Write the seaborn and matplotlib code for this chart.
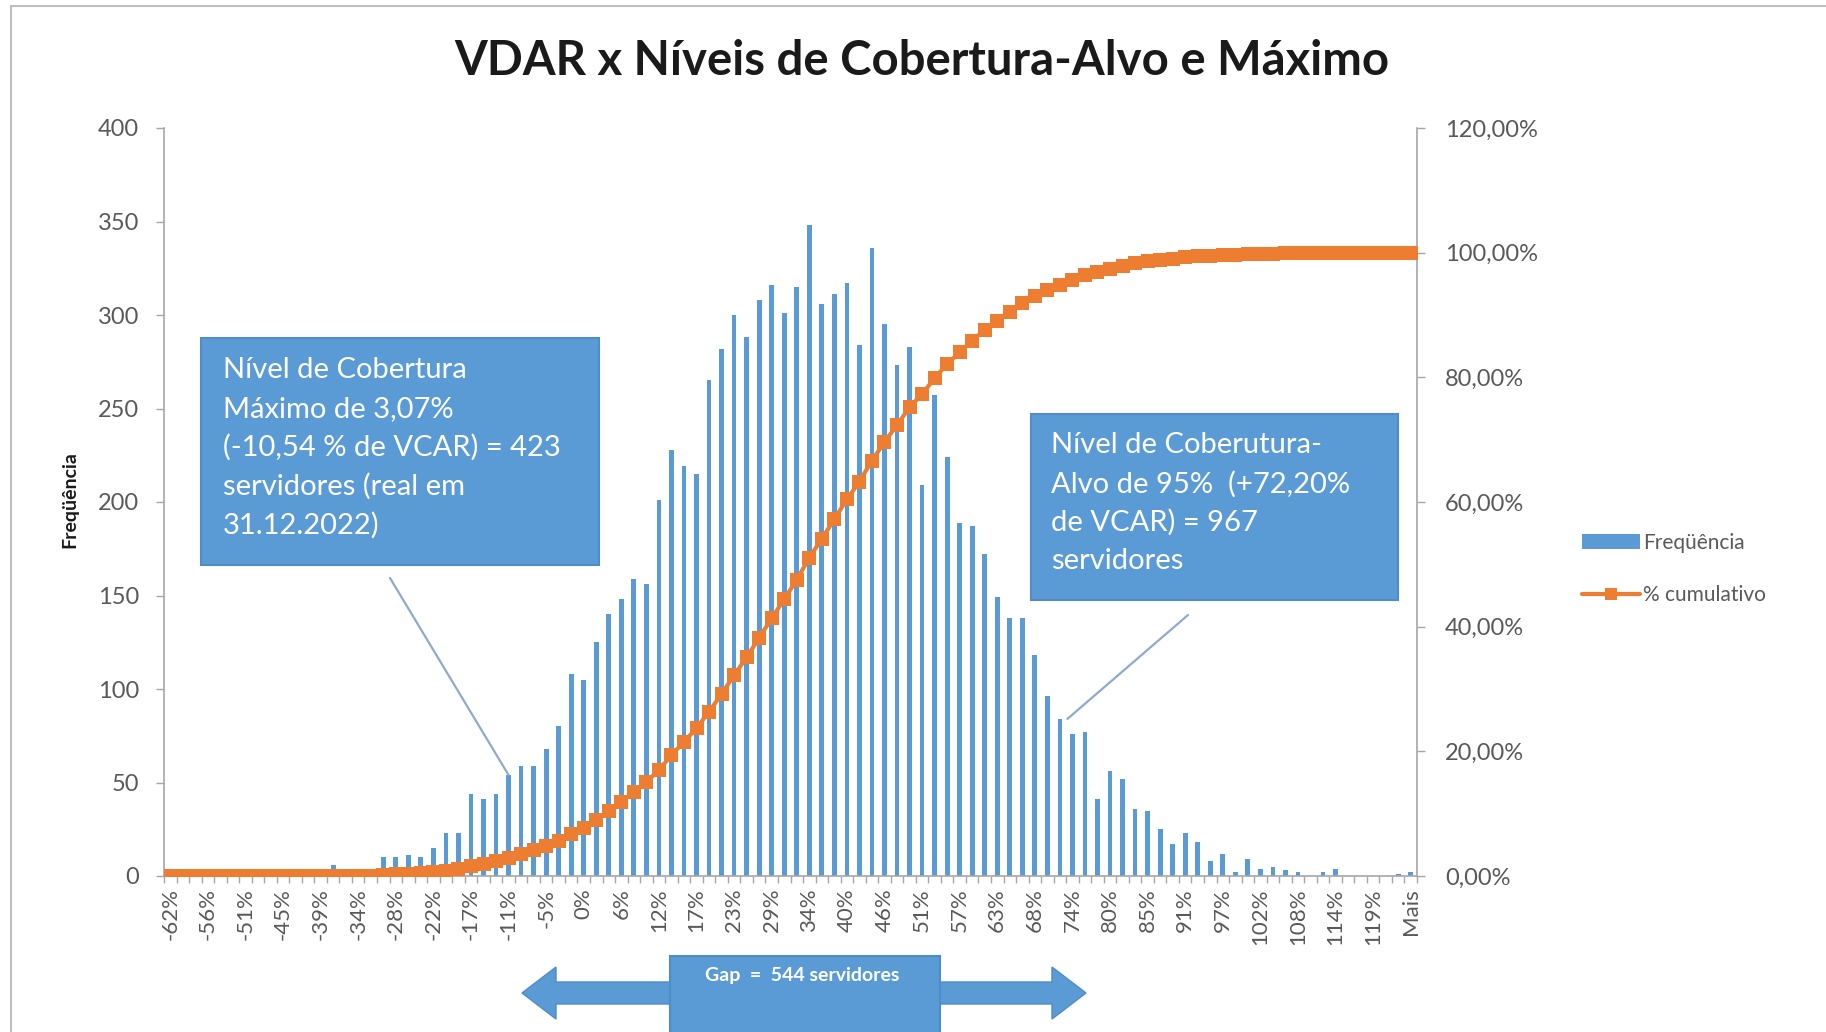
import numpy as np
import pandas as pd
import matplotlib
matplotlib.use("Agg")
import matplotlib.pyplot as plt
import seaborn as sns
from matplotlib.patches import Rectangle, Polygon
from matplotlib.lines import Line2D

# ---------------- data ----------------
categories = [
    "-62%", "-60%", "-58%", "-56%", "-54%", "-52%", "-51%", "-49%", "-47%", "-45%",
    "-43%", "-41%", "-39%", "-37%", "-35%", "-34%", "-32%", "-30%", "-28%", "-26%",
    "-24%", "-22%", "-20%", "-19%", "-17%", "-15%", "-13%", "-11%", "-9%", "-7%",
    "-5%", "-3%", "-2%", "0%", "2%", "4%", "6%", "8%", "10%", "12%",
    "14%", "15%", "17%", "19%", "21%", "23%", "25%", "27%", "29%", "31%",
    "32%", "34%", "36%", "38%", "40%", "42%", "44%", "46%", "47%", "49%",
    "51%", "53%", "55%", "57%", "59%", "61%", "63%", "64%", "66%", "68%",
    "70%", "72%", "74%", "76%", "78%", "80%", "81%", "83%", "85%", "87%",
    "89%", "91%", "93%", "95%", "97%", "98%", "100%", "102%", "104%", "106%",
    "108%", "110%", "112%", "114%", "115%", "117%", "119%", "121%", "123%", "Mais",
]

frequencia = [
    0, 0, 0, 0, 0, 0, 0, 0, 0, 0,
    0, 0, 0, 6, 0, 0, 0, 10, 10, 11,
    10, 15, 23, 23, 44, 41, 44, 54, 59, 59,
    68, 80, 108, 105, 125, 140, 148, 159, 156, 201,
    228, 219, 215, 265, 282, 300, 288, 308, 316, 301,
    315, 348, 306, 311, 317, 284, 336, 295, 273, 283,
    209, 257, 224, 189, 187, 172, 149, 138, 138, 118,
    96, 84, 76, 77, 41, 56, 52, 36, 35, 25,
    17, 23, 18, 8, 12, 2, 9, 4, 5, 3,
    2, 0, 2, 4, 0, 0, 0, 0, 1, 2,
]

left_ticks = [0, 50, 100, 150, 200, 250, 300, 350, 400]
right_ticks = [0, 20, 40, 60, 80, 100, 120]
right_tick_labels = ["0,00%", "20,00%", "40,00%", "60,00%", "80,00%", "100,00%", "120,00%"]

title = "VDAR x Níveis de Cobertura-Alvo e Máximo"
ylabel = "Freqüência"
legend_labels = ["Freqüência", "% cumulativo"]
box_left_text = ["Nível de Cobertura", "Máximo de 3,07%", "(-10,54 % de VCAR) = 423",
                 "servidores (real em", "31.12.2022)"]
box_right_text = ["Nível de Coberutura-", "Alvo de 95%  (+72,20%", "de VCAR) = 967",
                  "servidores"]
gap_text = "Gap  =  544 servidores"

# ---------------- style ----------------
BLUE = "#5B9BD5"
ORANGE = "#ED7D31"
TXT = "#595959"
AXC = "#A6A6A6"

sns.set_theme(style="white")
plt.rcParams['font.family'] = ['Lato', 'DejaVu Sans']

W, H = 1826, 1032
fig = plt.figure(figsize=(W / 100, H / 100), dpi=100)
fig.patch.set_facecolor("white")

def fx(x):
    return x / W

def fy(y):
    return 1 - y / H

ax = fig.add_axes([fx(164), fy(876), (1417 - 164) / W, (876 - 128) / H])

df = pd.DataFrame({"cat": categories, "freq": frequencia})
n = len(categories)
cum = np.cumsum(frequencia) / np.sum(frequencia) * 100

sns.barplot(data=df, x="cat", y="freq", order=categories, ax=ax, color=BLUE,
            saturation=1, width=0.38, errorbar=None, linewidth=0, zorder=2)

ax2 = ax.twinx()
sns.lineplot(x=np.arange(n), y=cum, ax=ax2, color=ORANGE, marker="s",
             markersize=10.5, markeredgewidth=0, linewidth=3, zorder=3)

ax.set_xlim(-0.5, n - 0.5)
ax.set_ylim(0, 400)
ax2.set_ylim(0, 120)

# x ticks
major = list(range(0, n, 3))
ax.set_xticks(major)
ax.set_xticklabels([categories[i] for i in major], rotation=90, fontsize=16, color=TXT)
ax.set_xticks(np.arange(-0.5, n, 1), minor=True)
ax.tick_params(axis="x", which="major", length=0, pad=9, bottom=True)
ax.tick_params(axis="x", which="minor", length=5, width=1, color=AXC,
               direction="out", bottom=True)
ax.set_xlabel("")

# left y
ax.set_yticks(left_ticks)
ax.set_yticklabels([str(v) for v in left_ticks], fontsize=17, color=TXT)
ax.tick_params(axis="y", left=True, length=6, width=1, color=AXC,
               direction="out", pad=12)
ax.set_ylabel("")

# right y
ax2.set_yticks(right_ticks)
ax2.set_yticklabels(right_tick_labels, fontsize=17, color=TXT)
ax2.tick_params(axis="y", right=True, length=6, width=1, color=AXC,
                direction="out", pad=14)
ax2.set_ylabel("")
ax2.grid(False)
ax.grid(False)

for a in (ax, ax2):
    a.spines["top"].set_visible(False)
ax.spines["right"].set_visible(False)
ax.spines["left"].set_color(AXC)
ax.spines["bottom"].set_color(AXC)
ax2.spines["left"].set_visible(False)
ax2.spines["bottom"].set_visible(False)
ax2.spines["right"].set_color(AXC)
for a in (ax, ax2):
    for s in a.spines.values():
        s.set_linewidth(1.2)

# title and y label
fig.text(fx(922), fy(61), title, ha="center", va="center", fontsize=34,
         fontweight="bold", color="#1a1a1a")
fig.text(fx(70), fy(500), ylabel, rotation=90, ha="center", va="center",
         fontsize=14, fontweight="bold", color="#1a1a1a")

# legend
handles = [Rectangle((0, 0), 1, 1, facecolor=BLUE, edgecolor="none"),
           Line2D([0], [0], color=ORANGE, lw=3, marker="s", markersize=9,
                  markeredgewidth=0)]
fig.legend(handles, legend_labels, loc="center left",
           bbox_to_anchor=(fx(1563), fy(569)), frameon=False, fontsize=15,
           handlelength=2.8, handletextpad=0.15, labelspacing=1.55,
           labelcolor=TXT)

# annotation boxes
def box(x0, y0, x1, y1):
    fig.add_artist(Rectangle((fx(x0), fy(y1)), (x1 - x0) / W, (y1 - y0) / H,
                             transform=fig.transFigure, facecolor=BLUE,
                             edgecolor="#4F8CC9", linewidth=1.5, zorder=5))

box(201, 338, 599, 565)
for k, line in enumerate(box_left_text):
    fig.text(fx(223), fy(370 + 38.8 * k), line, ha="left", va="center",
             fontsize=21, color="white", zorder=6)

box(1031, 414, 1398, 600)
for k, line in enumerate(box_right_text):
    fig.text(fx(1051), fy(445 + 38.8 * k), line, ha="left", va="center",
             fontsize=21, color="white", zorder=6)

# connector lines
ax.annotate("", xy=(27, frequencia[27]), xycoords="data",
            xytext=(fx(390), fy(578)), textcoords="figure fraction",
            arrowprops=dict(arrowstyle="-", color="#8FAACC", lw=1.6,
                            shrinkA=0, shrinkB=0), zorder=4)
ax.annotate("", xy=(71.6, frequencia[71]), xycoords="data",
            xytext=(fx(1188), fy(615)), textcoords="figure fraction",
            arrowprops=dict(arrowstyle="-", color="#8FAACC", lw=1.6,
                            shrinkA=0, shrinkB=0), zorder=4)

# double arrow + gap box
xL, xR, yc = 522, 1086, 993
hl, hh, sh = 34, 26, 11
pts = [(xL, yc), (xL + hl, yc - hh), (xL + hl, yc - sh), (xR - hl, yc - sh),
       (xR - hl, yc - hh), (xR, yc), (xR - hl, yc + hh), (xR - hl, yc + sh),
       (xL + hl, yc + sh), (xL + hl, yc + hh)]
fig.add_artist(Polygon([(fx(x), fy(y)) for x, y in pts], closed=True,
                       transform=fig.transFigure, facecolor=BLUE,
                       edgecolor="#4F8CC9", linewidth=1, zorder=5))
box(670, 956, 940, 1040)
fig.text(fx(802), fy(975), gap_text, ha="center", va="center", fontsize=14,
         fontweight="bold", color="white", zorder=6)

# chart frame
fig.add_artist(Line2D([fx(11), fx(11)], [fy(6), fy(1040)], transform=fig.transFigure,
                      color="#BFBFBF", lw=1.5))
fig.add_artist(Line2D([fx(11), fx(1830)], [fy(6), fy(6)], transform=fig.transFigure,
                      color="#BFBFBF", lw=1.5))

fig.savefig("out.png", dpi=100, facecolor="white")
